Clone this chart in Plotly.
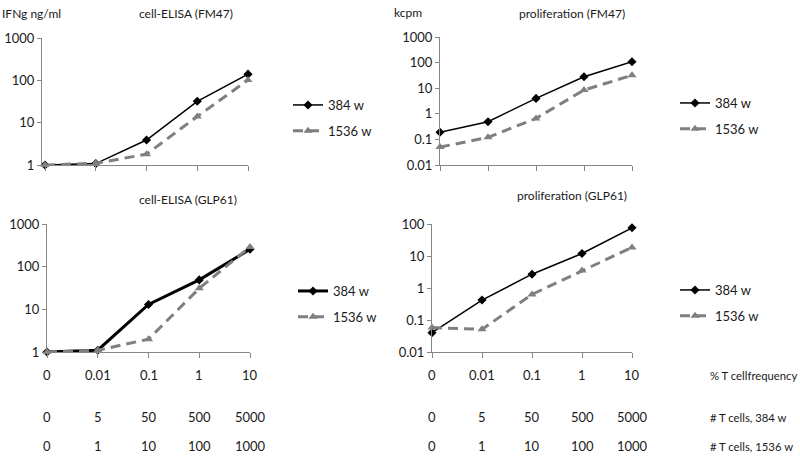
import plotly.graph_objects as go

W, H = 800, 457

# ---------------- data ----------------
categories = ["0", "0.01", "0.1", "1", "10"]
x_pos = [0, 1, 2, 3, 4]

elisa_fm47_384 = [1.0, 1.08, 3.9, 32, 140]
elisa_fm47_1536 = [1.0, 1.1, 1.8, 14, 102]

prolif_fm47_384 = [0.19, 0.49, 4.0, 28, 108]
prolif_fm47_1536 = [0.05, 0.12, 0.66, 8.5, 32]

elisa_glp61_384 = [1.0, 1.1, 13, 49, 255]
elisa_glp61_1536 = [1.0, 1.1, 2.0, 31, 290]

prolif_glp61_384 = [0.04, 0.42, 2.7, 12, 76]
prolif_glp61_1536 = [0.058, 0.051, 0.63, 3.5, 18.6]

series_names = ["384 w", "1536 w"]

row_freq = ["0", "0.01", "0.1", "1", "10"]
row_384 = ["0", "5", "50", "500", "5000"]
row_1536 = ["0", "1", "10", "100", "1000"]
row_titles = ["% T cellfrequency", "# T cells, 384 w", "# T cells, 1536 w"]

panel_titles = ["cell-ELISA (FM47)", "proliferation (FM47)",
                "cell-ELISA (GLP61)", "proliferation (GLP61)"]

FONT = "Lato"
BLACK = "#000000"
GRAY = "#7f7f7f"
AXIS = "#868686"
TXT = "#1a1a1a"

def px_x(p):
    return p / W

def px_y(p):
    return 1 - p / H

fig = go.Figure()

panels = [
    ("x", "y", elisa_fm47_384, elisa_fm47_1536, (42, 248), (38, 165), [0, 3],
     [1, 10, 100, 1000], ["1", "10", "100", "1000"], "legend", [-0.06, 4.0], 1.5),
    ("x2", "y2", prolif_fm47_384, prolif_fm47_1536, (440, 632), (37, 165), [-2, 3],
     [0.01, 0.1, 1, 10, 100, 1000], ["0.01", "0.1", "1", "10", "100", "1000"], "legend2", [0, 4.0], 1.5),
    ("x3", "y3", elisa_glp61_384, elisa_glp61_1536, (47, 250), (224, 352), [0, 3],
     [1, 10, 100, 1000], ["1", "10", "100", "1000"], "legend3", [0, 4.0], 3),
    ("x4", "y4", prolif_glp61_384, prolif_glp61_1536, (432, 632), (224, 352), [-2, 2],
     [0.01, 0.1, 1, 10, 100], ["0.01", "0.1", "1", "10", "100"], "legend4", [0, 4.0], 1.5),
]

layout_axes = {}
for i, (xa, ya, d1, d2, xd, yd, yr, tv, tt, lg, xr, w384) in enumerate(panels):
    fig.add_trace(go.Scatter(
        x=x_pos, y=d1, xaxis=xa, yaxis=ya, name=series_names[0], legend=lg,
        legendgroup="a", mode="lines+markers",
        line=dict(color=BLACK, width=w384),
        marker=dict(symbol="diamond", size=7, color=BLACK),
        cliponaxis=False))
    fig.add_trace(go.Scatter(
        x=x_pos, y=d2, xaxis=xa, yaxis=ya, name=series_names[1], legend=lg,
        legendgroup="b", mode="lines+markers",
        line=dict(color=GRAY, width=3, dash="10px,6px"),
        marker=dict(symbol="triangle-up", size=8, color=GRAY),
        cliponaxis=False))
    xkey = "xaxis" if xa == "x" else "xaxis" + xa[1:]
    ykey = "yaxis" if ya == "y" else "yaxis" + ya[1:]
    layout_axes[xkey] = dict(
        domain=[px_x(xd[0]), px_x(xd[1])], range=xr, anchor=ya, automargin=False,
        showgrid=False, zeroline=False, showline=True, linecolor=AXIS, linewidth=1,
        ticks="outside", ticklen=5, tickcolor=AXIS, tickvals=x_pos,
        showticklabels=False)
    layout_axes[ykey] = dict(
        domain=[px_y(yd[1]), px_y(yd[0])], type="log", range=yr, anchor=xa, automargin=False,
        showgrid=False, zeroline=False, showline=True, linecolor=AXIS, linewidth=1,
        ticks="outside", ticklen=4, tickcolor=AXIS, tickvals=tv, ticktext=tt,
        tickfont=dict(family=FONT, size=13, color=TXT))

legend_pos = {
    "legend": (288, 90),
    "legend2": (675, 88),
    "legend3": (293, 276),
    "legend4": (675, 275),
}
legends = {}
for k, (lx, ly) in legend_pos.items():
    legends[k] = dict(x=px_x(lx), y=px_y(ly), xanchor="left", yanchor="top",
                      bgcolor="rgba(0,0,0,0)", tracegroupgap=6,
                      font=dict(family=FONT, size=13, color=TXT),
                      itemwidth=30)

annotations = []
title_pos = [(186, 14), (572, 13), (188, 199), (572, 196)]
for t, (tx, ty) in zip(panel_titles, title_pos):
    annotations.append(dict(text=t, x=px_x(tx), y=px_y(ty), xref="paper", yref="paper",
                            xanchor="center", yanchor="middle", showarrow=False,
                            font=dict(family=FONT, size=12, color=TXT)))
annotations.append(dict(text="IFNg ng/ml", x=0, y=px_y(13), xref="paper", yref="paper",
                        xanchor="left", yanchor="middle", showarrow=False,
                        font=dict(family=FONT, size=12, color=TXT)))
annotations.append(dict(text="kcpm", x=px_x(392), y=px_y(12), xref="paper", yref="paper",
                        xanchor="left", yanchor="middle", showarrow=False,
                        font=dict(family=FONT, size=12, color=TXT)))

rows = [row_freq, row_384, row_1536]
row_y = [375, 417, 446]
for labels, ry in zip(rows, row_y):
    for xa in ["x3", "x4"]:
        for xv, lab in zip(x_pos, labels):
            annotations.append(dict(text=lab, x=xv, y=px_y(ry), xref=xa, yref="paper",
                                    xanchor="center", yanchor="middle", showarrow=False,
                                    font=dict(family=FONT, size=13, color=TXT)))
for t, ry in zip(row_titles, row_y):
    annotations.append(dict(text=t, x=px_x(708), y=px_y(ry), xref="paper", yref="paper",
                            xanchor="left", yanchor="middle", showarrow=False,
                            font=dict(family=FONT, size=11.3, color=TXT)))

fig.update_layout(
    width=W, height=H, margin=dict(l=0, r=0, t=0, b=0, pad=0, autoexpand=False),
    paper_bgcolor="white", plot_bgcolor="white", hovermode=False,
    showlegend=True, annotations=annotations,
    **legends, **layout_axes)

fig.write_html("out.html", config={"displayModeBar": False},
               post_script="document.body.style.margin='0';document.body.style.overflow='hidden';")
